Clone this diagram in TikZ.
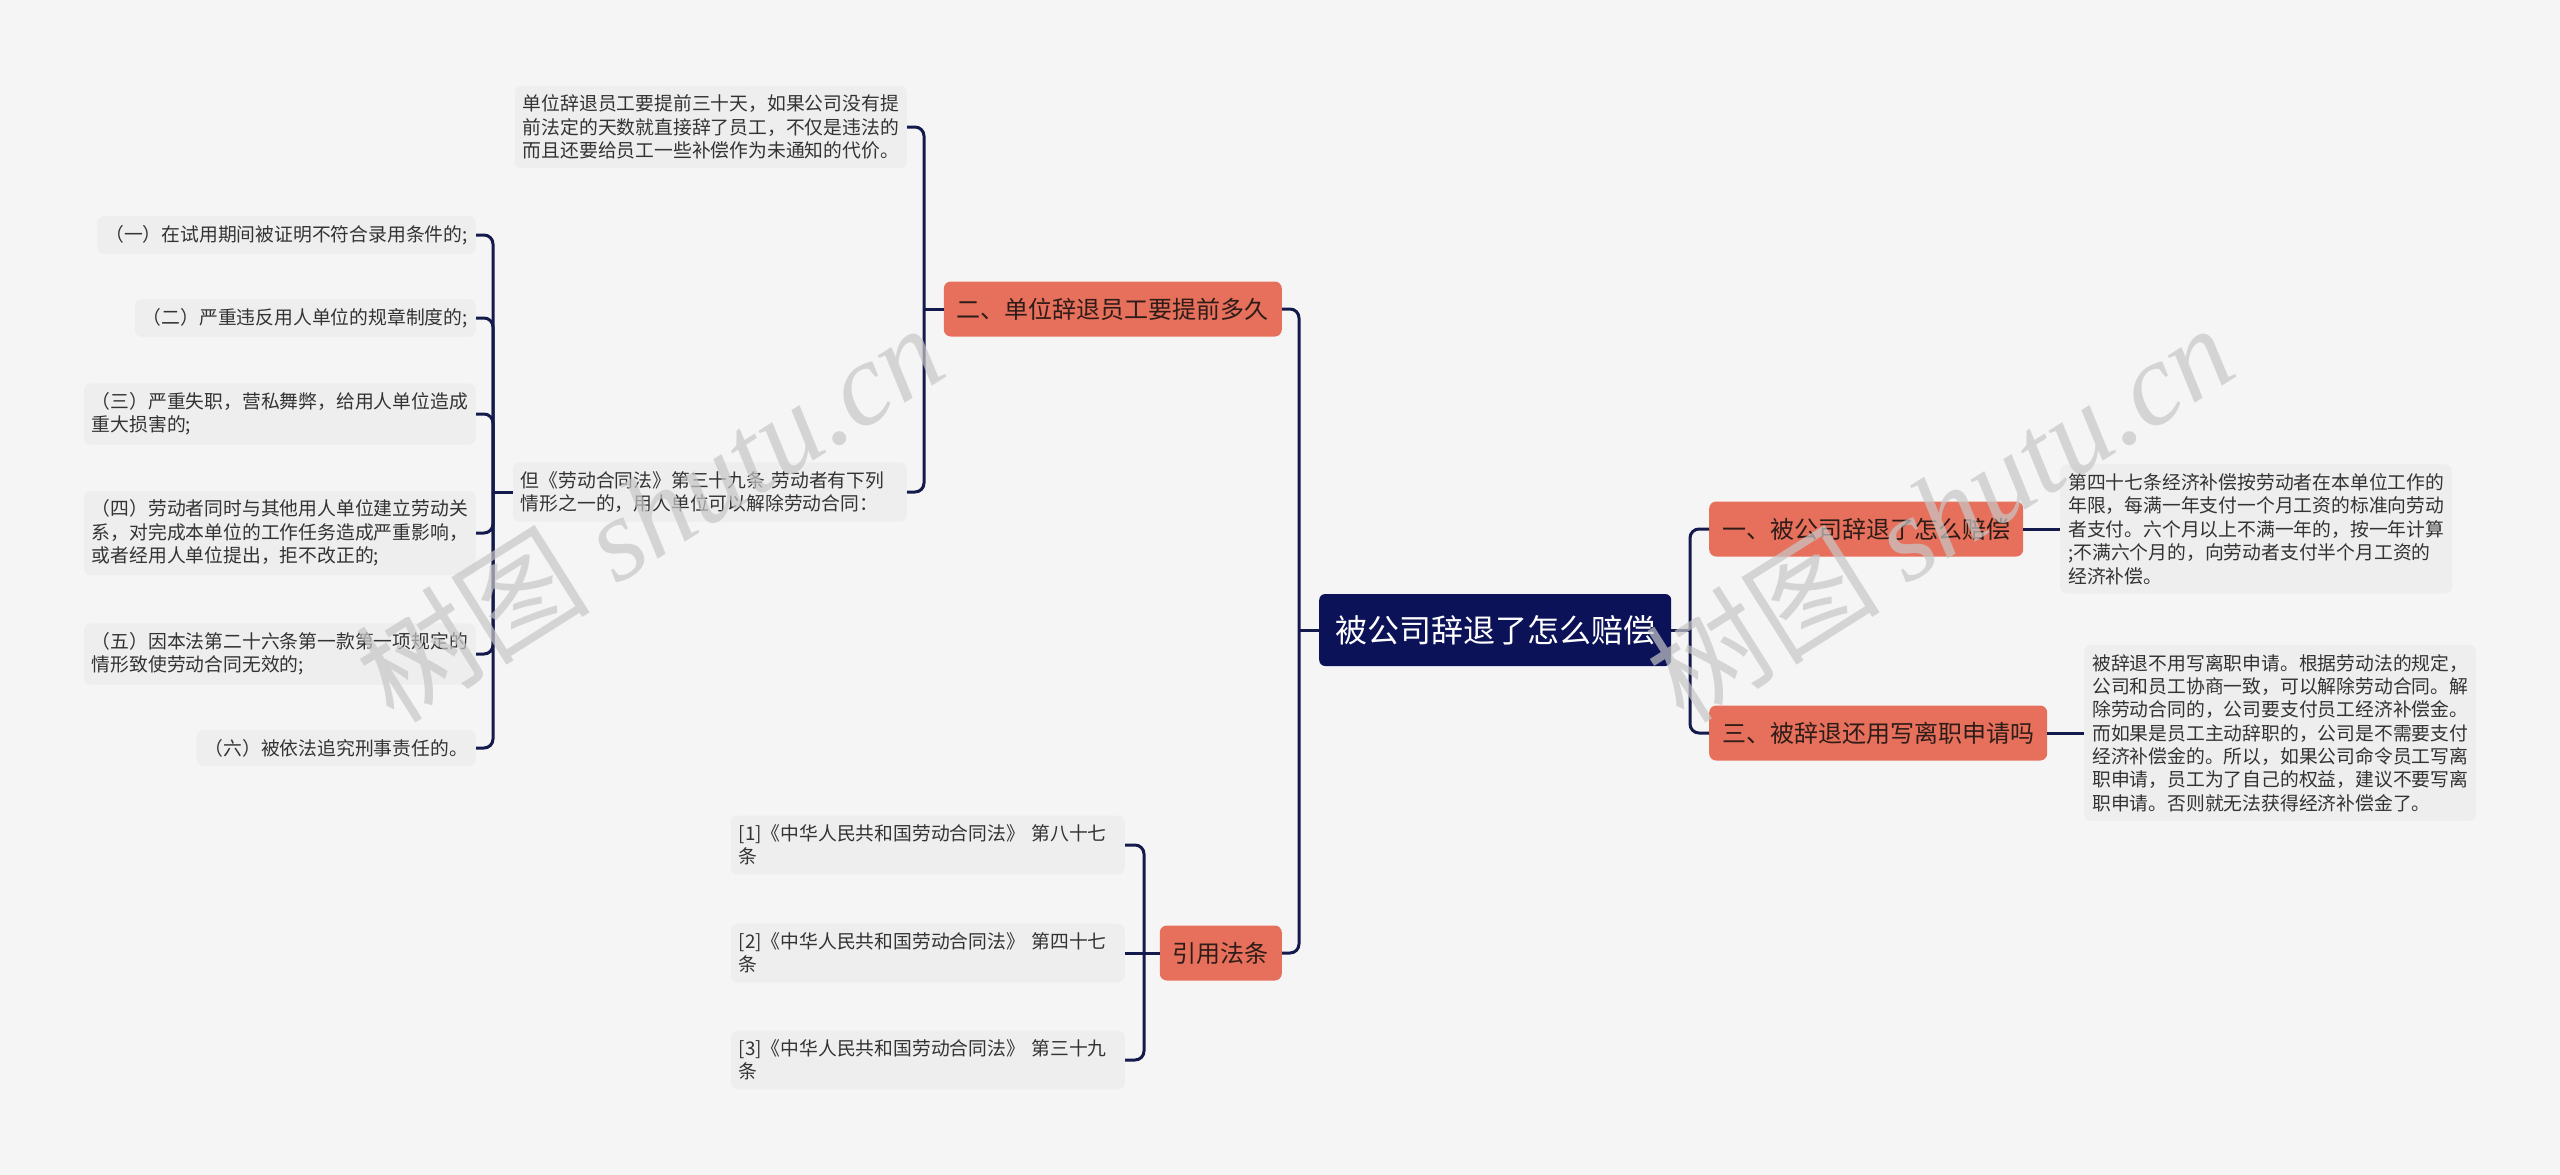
\documentclass[tikz,border=0pt]{standalone}
\usepackage{fontspec}
\setmainfont{Noto Sans CJK SC}
\newfontfamily\wmserif{Liberation Serif}
\usetikzlibrary{calc}
\definecolor{bgc}{HTML}{F5F5F5}
\definecolor{boxc}{HTML}{EEEEEE}
\definecolor{salm}{HTML}{E6705B}
\definecolor{navy}{HTML}{0B1257}
\definecolor{linec}{HTML}{151A4C}
\definecolor{txt}{HTML}{333333}
\definecolor{btxt}{HTML}{2E1C18}
\begin{document}
\begin{tikzpicture}[x=1pt,y=-1pt,
  conn/.style={draw=linec, line width=3pt, rounded corners=9pt},
  leaf/.style={fill=boxc, rounded corners=7pt, inner xsep=8pt, inner ysep=9pt, align=left, text=txt, font=\fontsize{18.8}{23.4}\selectfont},
  wideleaf/.style={leaf, text width=378pt},
  branch/.style={fill=salm, rounded corners=7pt, inner xsep=13pt, inner ysep=0pt, minimum height=55pt, text=btxt, font=\fontsize{24}{28}\selectfont},
  rootbox/.style={fill=navy, rounded corners=6pt, inner xsep=16pt, inner ysep=0pt, minimum height=72pt, text=white, font=\fontsize{32}{36}\selectfont},
  wm/.style={text=black!22, opacity=0.7}
]
\useasboundingbox (0,0) rectangle (2560,1175);
\fill[bgc] (0,0) rectangle (2560,1175);

% trunk coordinates
\coordinate (tL) at (1299,0);
\coordinate (tR) at (1690,0);
\coordinate (t2) at (924,0);
\coordinate (t3) at (493,0);
\coordinate (t4) at (1144,0);

% root and branches
\node[rootbox, anchor=west] (root) at (1319,630) {被公司辞退了怎么赔偿};
\node[branch, anchor=east] (b2) at (1282,309) {二、单位辞退员工要提前多久};
\node[branch, anchor=west] (b1) at (1709,529) {一、被公司辞退了怎么赔偿};
\node[branch, anchor=west] (b3) at (1709,733) {三、被辞退还用写离职申请吗};
\node[branch, anchor=east] (b4) at (1282,953) {引用法条};

% children of b2
\node[leaf, anchor=east] (c1) at (907,127) {单位辞退员工要提前三十天，如果公司没有提\\前法定的天数就直接辞了员工，不仅是违法的\\而且还要给员工一些补偿作为未通知的代价。};
\node[wideleaf, anchor=east] (c2) at (907,492) {但《劳动合同法》第三十九条 劳动者有下列\\情形之一的，用人单位可以解除劳动合同：};

% grandchildren
\node[leaf, anchor=east] (g1) at (476,235) {（一）在试用期间被证明不符合录用条件的;};
\node[leaf, anchor=east] (g2) at (476,318) {（二）严重违反用人单位的规章制度的;};
\node[leaf, anchor=east] (g3) at (476,414) {（三）严重失职，营私舞弊，给用人单位造成\\重大损害的;};
\node[leaf, anchor=east] (g4) at (476,533) {（四）劳动者同时与其他用人单位建立劳动关\\系，对完成本单位的工作任务造成严重影响，\\或者经用人单位提出，拒不改正的;};
\node[leaf, anchor=east] (g5) at (476,654) {（五）因本法第二十六条第一款第一项规定的\\情形致使劳动合同无效的;};
\node[leaf, anchor=east] (g6) at (476,748) {（六）被依法追究刑事责任的。};

% right side texts
\node[leaf, anchor=west] (r1) at (2060,529) {第四十七条经济补偿按劳动者在本单位工作的\\年限，每满一年支付一个月工资的标准向劳动\\者支付。六个月以上不满一年的，按一年计算\\;不满六个月的，向劳动者支付半个月工资的\\经济补偿。};
\node[leaf, anchor=west] (r2) at (2084,733) {被辞退不用写离职申请。根据劳动法的规定，\\公司和员工协商一致，可以解除劳动合同。解\\除劳动合同的，公司要支付员工经济补偿金。\\而如果是员工主动辞职的，公司是不需要支付\\经济补偿金的。所以，如果公司命令员工写离\\职申请，员工为了自己的权益，建议不要写离\\职申请。否则就无法获得经济补偿金了。};

% references
\node[wideleaf, anchor=east] (f1) at (1125,845) {[1]《中华人民共和国劳动合同法》 第八十七\\条};
\node[wideleaf, anchor=east] (f2) at (1125,953) {[2]《中华人民共和国劳动合同法》 第四十七\\条};
\node[wideleaf, anchor=east] (f3) at (1125,1060) {[3]《中华人民共和国劳动合同法》 第三十九\\条};

% connectors: root
\draw[conn] (root.west) -- (root.west -| tL);
\draw[conn] (root.west -| tL) |- (b2.east);
\draw[conn] (root.west -| tL) |- (b4.east);
\draw[conn] (root.east) -- (root.east -| tR);
\draw[conn] (root.east -| tR) |- (b1.west);
\draw[conn] (root.east -| tR) |- (b3.west);
% b2
\draw[conn] (b2.west) -- (b2.west -| t2);
\draw[conn] (b2.west -| t2) |- (c1.east);
\draw[conn] (b2.west -| t2) |- (c2.east);
% c2
\draw[conn] (c2.west) -- (c2.west -| t3);
\foreach \g in {g1,g2,g3,g4,g5,g6}{
  \draw[conn] (c2.west -| t3) |- (\g.east);
}
% right
\draw[conn] (b1.east) -- (r1.west);
\draw[conn] (b3.east) -- (r2.west);
% references
\draw[conn] (b4.west) -- (f2.east);
\draw[conn] (b4.west -| t4) |- (f1.east);
\draw[conn] (b4.west -| t4) |- (f3.east);

% watermarks
\node[wm, rotate=32.2, font=\fontsize{118}{120}\selectfont] (wm1) at (649,512) {树图 {\wmserif\itshape shutu.cn}};
\node[wm, rotate=32.2, font=\fontsize{118}{120}\selectfont] (wm2) at (1939,512) {树图 {\wmserif\itshape shutu.cn}};
\end{tikzpicture}
\end{document}
